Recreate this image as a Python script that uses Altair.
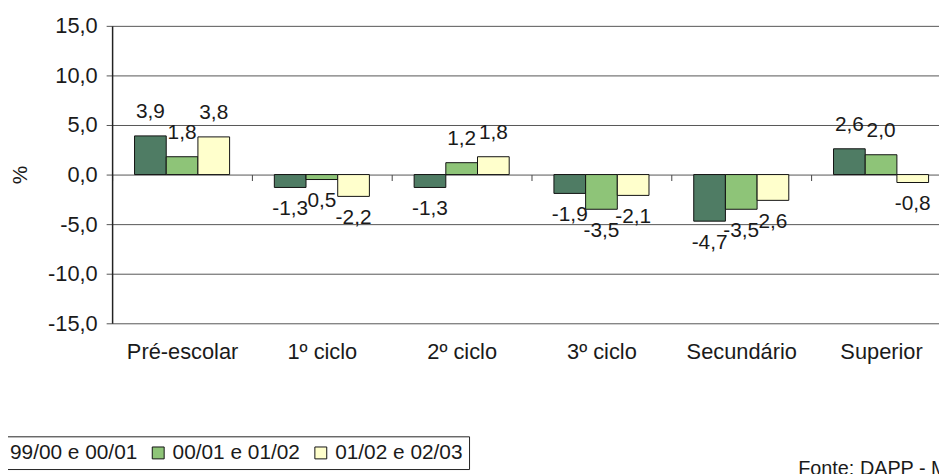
import altair as alt
import pandas as pd

categories = ["Pré-escolar", "1º ciclo", "2º ciclo", "3º ciclo", "Secundário", "Superior"]
series = ["99/00 e 00/01", "00/01 e 01/02", "01/02 e 02/03"]
values_s1 = [3.9, -1.3, -1.3, -1.9, -4.7, 2.6]
values_s2 = [1.8, -0.5, 1.2, -3.5, -3.5, 2.0]
values_s3 = [3.8, -2.2, 1.8, -2.1, -2.6, -0.8]
labels_s1 = ["3,9", "-1,3", "-1,3", "-1,9", "-4,7", "2,6"]
labels_s2 = ["1,8", "0,5", "1,2", "-3,5", "-3,5", "2,0"]
labels_s3 = ["3,8", "-2,2", "1,8", "-2,1", "2,6", "-0,8"]
y_ticks = [-15, -10, -5, 0, 5, 10, 15]
colors = ["#4f7c64", "#8ec478", "#ffffcc"]
source_text = "Fonte: DAPP - ME"

rows = []
for s, vals, labs in zip(series, [values_s1, values_s2, values_s3], [labels_s1, labels_s2, labels_s3]):
    for c, v, l in zip(categories, vals, labs):
        rows.append({"categoria": c, "serie": s, "valor": v, "rotulo": l})
df = pd.DataFrame(rows)

FONT = "Liberation Sans"
TXT = "#1a1a1a"

base = alt.Chart(df).encode(
    x=alt.X(
        "categoria:N",
        sort=categories,
        scale=alt.Scale(paddingInner=0.32, paddingOuter=0.1175, align=0.683),
        axis=alt.Axis(
            title=None, domain=False, grid=False, ticks=True, tickSize=6,
            tickColor="#444", tickWidth=1, tickOffset=-70.5, labelOffset=70.5,
            offset=-150, labelPadding=163, labelFontSize=22, labelFont=FONT,
            labelColor=TXT, labelAngle=0,
        ),
    ),
    xOffset=alt.XOffset("serie:N", sort=series, scale=alt.Scale(paddingInner=0, paddingOuter=0)),
    y=alt.Y(
        "valor:Q",
        scale=alt.Scale(domain=[-15, 15], nice=False, zero=True),
        axis=alt.Axis(
            title="%", values=y_ticks,
            labelExpr="replace(replace(format(datum.value, '.1f'), '.', ','), '\u2212', '-')",
            tickSize=6, tickColor="#555", labelPadding=9, labelFontSize=22,
            labelFont=FONT, labelColor=TXT, domainColor="#222", domainWidth=1.5,
            grid=True, gridColor="#555", gridWidth=1,
            titleX=-92, titleY=150, titleAngle=270, titleFontSize=21,
            titleFont=FONT, titleFontWeight="normal", titleColor=TXT,
            titleBaseline="middle",
        ),
    ),
)

bars = base.mark_bar(stroke="#111", strokeWidth=1).encode(
    color=alt.Color(
        "serie:N",
        sort=series,
        scale=alt.Scale(domain=series, range=colors),
        legend=alt.Legend(
            title=None, orient="none", legendX=-134, legendY=414,
            direction="horizontal", strokeColor="#222", fillColor="white",
            padding=6, symbolType="square", symbolSize=144,
            symbolStrokeColor="#111", symbolStrokeWidth=1,
            labelFontSize=21, labelFont=FONT, labelColor=TXT,
            labelOffset=4, columnPadding=10,
        ),
    )
)

pos_labels = base.transform_filter("datum.valor >= 0").mark_text(
    dy=-24, fontSize=21, font=FONT, color=TXT, baseline="middle", align="center"
).encode(text="rotulo:N")

neg_labels = base.transform_filter("datum.valor < 0").mark_text(
    dy=22, fontSize=21, font=FONT, color=TXT, baseline="middle", align="center"
).encode(text="rotulo:N")

fonte = alt.Chart(pd.DataFrame({"fonte": [source_text]})).mark_text(
    align="left", baseline="alphabetic", fontSize=20, font=FONT, color=TXT
).encode(x=alt.value(692), y=alt.value(453), text="fonte:N")

chart = (
    alt.layer(bars, pos_labels, neg_labels, fonte)
    .properties(
        width=834, height=300,
        autosize=alt.AutoSizeParams(type="none"),
        padding={"left": 105, "top": 16, "right": 0, "bottom": 150},
        background="white",
    )
    .configure_view(strokeWidth=0)
)

chart.save("out.html", embed_options={"renderer": "svg", "actions": False})
